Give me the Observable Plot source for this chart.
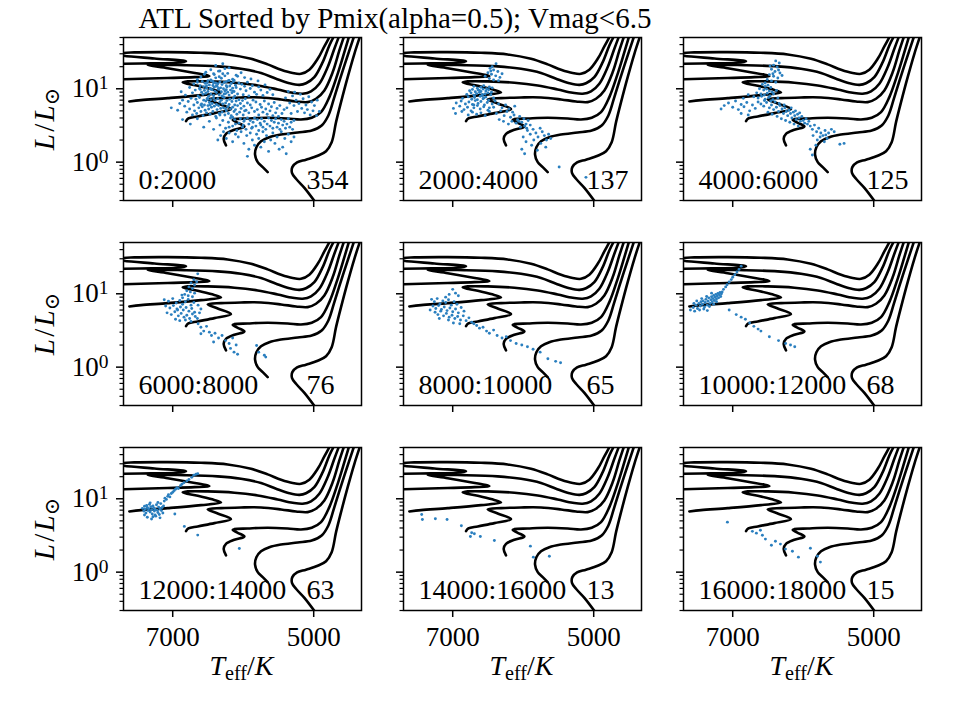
<!DOCTYPE html>
<html>
<head>
<meta charset="utf-8">
<script src="https://cdn.jsdelivr.net/npm/d3@7"></script>
<script src="https://cdn.jsdelivr.net/npm/@observablehq/plot@0.6"></script>
<style>
  html, body { margin: 0; padding: 0; background: #fff; }
  #fig { position: relative; width: 960px; height: 720px; font-family: "Liberation Serif", "DejaVu Serif", serif; color: #000; }
  .title { position: absolute; left: 0; width: 790px; top: 4px; text-align: center; font-size: 29px; line-height: 1; white-space: nowrap; }
  .xlab { position: absolute; font-size: 28px; line-height: 1; white-space: nowrap; transform: translateX(-50%); }
  .ylab { position: absolute; font-size: 29px; line-height: 1; white-space: nowrap; transform: translate(-50%, -50%) rotate(-90deg); }
  .xlab sub, .ylab sub { font-size: 0.72em; vertical-align: -0.25em; line-height: 0; }
  .ylab .sl { margin: 0 0.08em; }
</style>
</head>
<body>
<div id="fig"></div>
<script>
// ---- Evolutionary tracks, [Teff (K), L/Lsun], drawn in every panel ----
const track1 = [[4764,53.4],[4849,37.8],[4943,25.6],[5062,18.2],[5180,16.0],[5298,16.4],[5463,18.2],[5653,21.5],[5889,25.6],[6220,29.4],[6598,31.0],[7071,31.6],[7544,31.3],[7827,30.0],[7695,28.2],[7260,25.9],[6811,23.8],[6953,22.6],[7307,22.2],[7695,21.9],[7875,21.7]];
const track2 = [[4707,53.4],[4778,39.0],[4872,23.1],[4991,14.4],[5109,11.9],[5203,11.3],[5345,11.9],[5534,13.7],[5747,16.4],[6031,18.7],[6362,20.2],[6835,21.0],[7260,21.2],[7355,21.0],[7071,19.1],[6787,17.1],[6480,14.9],[6693,14.4],[7071,14.0],[7449,13.7],[7695,13.5],[7875,13.4]];
const track3 = [[4636,53.4],[4707,35.1],[4801,19.8],[4920,11.7],[5038,9.2],[5156,8.55],[5298,8.82],[5511,9.8],[5794,11.1],[6125,12.1],[6504,12.6],[6787,12.6],[6858,12.2],[6645,11.0],[6456,9.9],[6314,8.91],[6598,8.2],[7071,7.46],[7449,7.0],[7615,6.72]];
const track4 = [[4565,53.4],[4636,33.3],[4730,16.9],[4849,9.49],[4967,7.31],[5085,6.58],[5251,6.72],[5463,7.16],[5747,7.62],[6031,7.62],[6314,7.46],[6504,7.16],[6362,6.31],[6173,5.28],[6409,4.66],[6645,4.20],[6778,3.94],[6811,3.62]];
const track5 = [[4494,53.4],[4565,31.6],[4660,16.0],[4778,7.70],[4896,4.81],[5028,4.03],[5180,3.82],[5369,3.94],[5653,4.03],[5936,3.94],[6125,3.86],[6149,3.78],[6078,3.44],[5983,3.06],[6125,2.76],[6244,2.43],[6277,2.08],[6244,1.69]];
const track6 = [[4423,53.4],[4494,33.3],[4603,16.0],[4707,7.70],[4792,4.33],[4887,3.16],[5028,2.70],[5227,2.54],[5463,2.38],[5629,2.19],[5747,1.93],[5813,1.60],[5832,1.27],[5794,1.0],[5723,0.855],[5653,0.731]];
const track7 = [[4338,53.4],[4423,30.0],[4518,14.4],[4612,6.58],[4683,3.51],[4745,1.87],[4825,1.41],[4943,1.22],[5109,1.08],[5236,0.99],[5303,0.855],[5307,0.707],[5251,0.593],[5132,0.447],[4991,0.297],[4896,0.219]];
const tracks = [track1, track2, track3, track4, track5, track6, track7];

// ---- Stars in each rank bin, [Teff (K), L/Lsun] ----
const bin0 = [
[6390,20.8],[6290,21.9],[6200,19.3],[6460,18.2],[6330,17.5],
[6600,14.5],[6530,16.8],[6460,13.2],[6410,15.6],[6350,17.4],[6310,13.9],[6260,15.0],[6220,16.2],[6150,13.5],[6080,14.8],[6500,12.9],[6390,14.1],[6290,16.0],[6200,13.0],[6100,15.3],[5980,14.2],[5890,13.6],[5790,12.8],[6650,13.4],[6550,15.8],[6430,12.7],[6340,14.6],[6240,12.5],[6130,13.1],[6030,16.5],
[6880,9.1],[6820,8.2],[6760,10.4],[6720,8.8],[6700,11.6],[6680,9.6],[6650,12.3],[6640,8.0],[6620,10.1],[6610,11.0],
[6590,9.0],[6580,12.6],[6570,8.4],[6560,10.7],[6550,9.5],[6540,11.9],[6530,8.7],[6520,10.2],[6510,12.1],[6500,9.2],
[6490,7.9],[6480,11.3],[6470,10.0],[6460,8.5],[6450,12.8],[6440,9.7],[6430,11.1],[6420,8.1],[6410,10.5],[6400,9.3],
[6390,12.0],[6380,8.9],[6370,10.8],[6360,11.7],[6350,9.8],[6340,8.3],[6330,12.4],[6320,10.3],[6310,9.1],[6300,11.4],
[6290,7.8],[6280,10.0],[6270,12.2],[6260,9.4],[6250,8.6],[6240,11.0],[6230,10.6],[6220,9.0],[6210,12.9],[6200,8.2],
[6190,10.9],[6180,9.6],[6170,11.8],[6160,8.8],[6150,10.2],[6140,12.5],[6130,9.2],[6120,7.9],[6110,11.2],[6100,10.4],
[6080,8.5],[6060,12.0],[6040,9.9],[6020,11.5],[6000,8.3],[5980,10.8],[5960,9.4],[5940,12.3],[5920,8.0],[5900,10.1],
[5870,11.0],[5840,9.0],[5810,8.4],[5780,10.6],[5750,9.6],[5720,8.1],[5690,11.3],[5660,8.9],[5620,9.8],[5580,8.3],
[6610,9.8],[6460,9.9],[6350,10.1],[6240,9.7],[6380,11.0],[6300,8.0],[6150,9.3],[6520,11.0],[6420,12.0],[6270,8.5],
[7020,5.5],[6930,5.1],[6900,6.3],[6860,7.0],[6830,5.8],[6800,4.8],[6780,6.7],[6760,5.3],[6740,7.4],[6720,4.4],
[6700,6.0],[6690,5.0],[6670,7.2],[6660,4.6],[6650,6.5],[6630,5.5],[6620,7.6],[6600,4.9],[6590,6.2],[6580,5.7],
[6570,4.3],[6560,7.0],[6550,6.0],[6540,5.1],[6530,6.8],[6520,4.7],[6510,7.4],[6500,5.9],[6490,5.3],[6480,6.5],
[6470,4.5],[6460,7.1],[6450,5.6],[6440,6.3],[6430,4.9],[6420,7.5],[6410,5.8],[6400,6.9],[6390,4.2],[6380,6.1],
[6370,5.2],[6360,7.3],[6350,5.9],[6340,4.6],[6330,6.6],[6320,5.4],[6310,7.0],[6300,4.8],[6290,6.2],[6280,5.5],
[6270,7.6],[6260,4.4],[6250,6.4],[6240,5.0],[6230,6.9],[6220,5.7],[6210,4.6],[6200,6.1],[6190,7.2],[6180,5.3],
[6170,4.3],[6160,6.7],[6150,5.6],[6140,7.4],[6130,4.9],[6120,6.0],[6110,5.2],[6100,6.8],[6090,4.5],[6080,5.9],
[6060,7.1],[6050,4.8],[6040,6.3],[6030,5.4],[6010,6.9],[6000,4.4],[5990,5.8],[5970,7.3],[5960,5.1],[5940,6.4],
[5920,4.7],[5900,6.0],[5880,5.5],[5860,7.0],[5840,4.9],[5820,6.6],[5800,5.2],[5780,4.4],[5760,6.1],[5740,5.6],
[5720,4.8],[5700,6.8],[5680,5.3],[5660,4.5],[5640,6.2],[5620,5.0],[5600,5.7],[5580,4.3],[5560,6.5],[5540,4.7],
[5520,5.4],[5500,4.2],[5480,5.9],[5450,4.6],[5420,5.2],[6470,6.0],[6330,4.4],[6600,6.0],[6250,5.3],[6150,4.1],
[6860,3.8],[6750,3.3],[6650,3.9],[6560,3.0],[6480,3.6],[6420,2.8],[6380,4.0],[6330,3.2],[6290,3.7],[6250,2.9],
[6210,3.5],[6180,4.0],[6150,3.1],[6120,3.8],[6090,2.7],[6060,3.4],[6040,3.9],[6010,3.0],[5990,3.6],[5960,2.8],
[5940,4.0],[5920,3.3],[5900,3.7],[5880,2.9],[5860,3.5],[5840,4.0],[5820,3.1],[5800,3.8],[5780,2.7],[5760,3.4],
[5740,3.9],[5720,3.0],[5700,3.6],[5680,2.8],[5660,3.3],[5640,4.0],[5620,3.1],[5600,3.7],[5580,2.9],[5560,3.5],
[5540,3.9],[5520,3.0],[5500,3.4],[5480,2.8],[5460,3.8],[5440,3.2],[5420,3.6],[5400,2.9],[5380,3.3],[5360,3.9],
[5340,3.0],[5320,3.5],[5300,2.8],[5280,3.7],[6000,3.2],[5870,3.0],[6110,3.3],[5750,3.2],[6200,3.0],[5980,3.8],
[6360,2.0],[6320,2.3],[6280,2.6],[6240,2.1],[6200,2.5],[6150,1.9],[6110,2.4],[6070,2.2],[6030,2.6],[5990,1.8],
[5950,2.3],[5940,1.2],[5920,1.5],[5900,2.5],[5870,2.0],[5840,1.7],[5810,2.4],[5780,2.1],[5750,1.6],[5720,2.6],
[5700,1.9],[5670,2.3],[5640,1.4],[5610,2.0],[5580,2.5],[5550,1.8],[5520,2.2],[5490,1.5],[5460,2.6],[5440,1.6],
[5410,2.1],[5390,1.3],[5360,2.4],[5320,1.9],[5280,2.2],
[5400,7.5],[5380,5.5],[5360,9.2],[5340,6.4],[5320,4.6],[5300,8.0],[5280,5.9],[5270,9.0],[5250,7.0],[5230,4.9],
[5210,6.3],[5190,8.4],[5170,5.4],[5150,7.3],[5130,4.7],[5110,6.0],[5090,5.2],[5070,7.8],[5050,4.4],[5030,6.6],
[5010,5.0],[4990,5.9],[4960,4.3],[4920,4.9],[4950,7.0],
[6420,16.0],[6260,18.8],[6500,7.2],[5980,5.0]
];
const bin1 = [
[6385,21.9],[6440,20.0],[6470,19.0],[6420,18.0],[6360,17.2],[6500,16.5],[6450,15.8],[6390,15.0],[6330,14.3],[6480,13.8],[6420,13.2],[6350,12.9],[6540,14.8],[6300,16.0],[6460,17.5],
[6700,10.8],[6650,10.2],[6600,10.5],[6560,11.0],[6520,10.0],[6480,10.6],[6440,10.3],
[6760,9.4],[6720,9.8],[6680,9.1],[6640,9.6],[6600,9.2],[6570,9.9],[6530,9.3],[6490,9.7],[6450,9.0],
[6800,8.4],[6740,8.8],[6700,8.2],[6660,8.6],[6620,8.9],[6580,8.1],[6540,8.5],[6500,8.8],[6460,8.3],
[6860,7.4],[6780,7.8],[6730,7.2],[6690,7.6],[6650,7.1],[6610,7.9],[6570,7.3],[6530,7.7],[6490,7.0],[6420,7.5],
[6950,6.4],[6880,6.8],[6820,6.2],[6770,6.6],[6720,6.1],[6680,6.9],[6640,6.3],[6600,6.7],[6550,6.0],[6510,6.5],[6440,6.2],
[6990,5.4],[6900,5.8],[6840,5.2],[6790,5.6],[6740,5.0],[6700,5.5],[6650,5.9],[6610,5.3],[6560,5.7],[6500,5.1],
[6960,4.6],[6870,4.9],[6780,4.4],[6720,4.8],[6660,4.5],[6600,4.7],[6540,4.3],[6480,4.9],
[6620,9.5],[6560,7.5],[6700,6.0],[6480,5.5],[6580,8.4],[6690,8.0],
[6400,6.8],[6350,6.2],[6300,5.5],[6250,6.0],[6200,5.3],[6150,4.8],[6120,5.8],[6380,4.6],[6320,5.0],[6270,4.3],
[6230,4.9],[6180,4.1],[6130,4.4],[6080,3.8],[6050,4.2],[6020,3.5],[5990,3.9],[5960,3.3],[5930,3.7],[5900,3.2],
[6100,3.4],[6040,3.0],[6160,3.6],[5980,3.1],[6420,5.6],[6340,3.8],[6210,3.3],[6280,3.6],[6060,3.6],[5950,2.9],
[5940,2.7],[5900,2.4],[5860,2.8],[5820,2.5],[5790,2.2],[5760,2.9],[5730,2.6],[5700,2.3],[5670,2.0],[5640,2.4],
[5610,2.1],[6000,2.2],[5960,1.9],[6020,1.5],[5980,1.3],[5880,1.7],[5750,1.8],[5850,2.0],
[5490,0.86],[5110,0.62],[5680,1.6],[5800,1.45]
];
const bin2 = [
[6390,24.0],[6340,22.5],[6420,21.0],[6370,19.8],[6450,18.5],[6400,17.2],[6330,16.4],[6480,15.6],[6420,14.8],[6360,14.0],[6510,13.4],[6450,12.8],[6390,12.3],[6540,12.0],[6300,15.2],[6470,20.5],[6350,18.0],[6430,16.0],
[6580,11.5],[6540,10.8],[6500,11.2],[6460,10.4],[6620,10.0],[6560,9.6],[6520,9.9],[6480,9.3],[6440,9.0],[6660,8.8],
[6600,8.5],[6550,8.2],[6510,8.7],[6470,8.0],[6700,7.8],[6640,7.5],[6590,7.9],[6540,7.2],[6490,7.6],[6430,7.1],
[6780,8.3],[6850,7.4],[6420,8.5],[6380,9.5],[6360,7.5],
[7165,5.3],[7120,5.9],[7060,6.4],[7000,5.6],[6960,6.8],[6920,5.2],[6880,6.1],[6840,5.7],[6800,6.5],[6760,5.0],
[6720,6.0],[6680,5.4],[6640,6.6],[6880,4.6],[6780,4.4],
[6600,6.2],[6560,5.8],[6520,6.5],[6480,5.5],[6450,6.0],[6420,5.2],[6400,6.6],[6380,5.6],[6350,4.9],[6330,5.9],
[6300,5.3],[6280,4.6],[6260,5.5],[6240,4.9],[6220,4.3],[6200,5.1],[6180,4.6],[6160,4.0],[6140,4.8],[6120,4.3],
[6100,3.8],[6080,4.5],[6060,4.0],[6040,3.6],[6020,4.2],[6000,3.7],[5980,3.4],[5960,3.9],[5940,3.3],[5920,3.6],
[6500,4.8],[6440,4.5],[6370,4.2],[6310,3.9],[6250,3.7],[6190,3.5],[6130,3.3],[6070,3.1],[6550,6.9],[6460,6.8],
[6340,6.3],[6270,6.0],[6170,5.5],[6110,5.0],[6050,4.7],
[5900,3.1],[5870,2.8],[5840,3.2],[5810,2.6],[5780,2.9],[5750,2.5],[5720,2.3],[5690,2.7],[5660,2.1],[5640,2.5],
[5860,2.3],[5800,2.0],[5760,2.2],[5700,1.9],[5900,1.5],[5870,1.25],[5820,1.7],[5680,2.35],[5600,2.8],[5560,2.6],
[5480,1.75],[5420,1.8]
];
const bin3 = [
[6645,18.7],[6700,15.5],[6660,14.6],[6740,14.0],[6690,13.2],[6770,12.4],[6720,11.8],[6800,11.0],[6750,10.6],[6690,10.2],[6830,9.8],[6780,9.4],[6720,9.1],[6870,9.6],
[7120,8.3],[7060,7.9],[7000,8.6],[6950,7.5],[6900,8.1],[6860,7.2],[6820,7.8],[6780,8.4],[6740,7.0],[6700,7.6],
[7100,6.8],[7040,6.4],[6990,6.9],[6940,6.2],[6890,6.6],[6850,6.0],[6810,6.5],[6770,5.8],[6730,6.3],[6690,5.6],
[7080,5.5],[7020,5.2],[6970,5.7],[6920,5.0],[6880,5.4],[6840,4.8],[6800,5.1],[6760,4.6],[6720,5.3],[6680,4.9],
[6960,4.5],[6900,4.3],[6820,4.4],[6740,4.2],[6650,4.6],[6620,5.5],[6600,6.2],[6640,7.0],[6860,8.8],[6930,6.0],
[6640,3.9],[6600,3.5],[6560,3.1],[6520,3.6],[6480,3.0],[6600,2.85],[6450,2.7],[6400,2.9],[6350,2.5],[6300,2.7],
[6250,2.3],[6200,2.1],[6180,1.8],[6150,2.5],[6130,1.6],[6100,2.0],[6080,1.5],[5810,1.97],[5780,1.6],[5700,1.45],
[5680,1.37],[6420,2.2]
];
const bin4 = [
[7000,11.5],[6960,10.2],[7050,9.8],[6920,9.4],[7100,9.0],
[7300,8.4],[7260,7.8],[7220,8.6],[7180,7.3],[7140,8.0],[7100,7.6],[7060,8.3],[7020,7.0],[6980,7.8],[6940,7.2],
[7280,6.8],[7240,6.3],[7200,6.9],[7160,6.1],[7120,6.6],[7080,5.9],[7040,6.4],[7000,5.7],[6960,6.2],[6920,5.5],
[7250,5.6],[7210,5.2],[7170,5.8],[7130,5.0],[7090,5.4],[7050,4.8],[7010,5.1],[6970,4.6],[6930,4.9],[6890,4.4],
[6850,5.0],[6810,4.3],[6770,4.7],[6730,4.1],[6700,3.9],[6880,6.5],[6840,5.8],[7190,4.6],[7060,4.4],[6990,4.0],[6900,3.9],[7320,6.0],
[6660,3.7],[6620,3.4],[6570,3.5],[6520,3.1],[6480,2.9],[6420,3.2],[6370,2.7],[6300,2.5],[6240,2.6],[6180,2.3],
[6100,2.1],[6020,2.0],[5940,1.9],[5860,1.75],[5760,1.6],[5650,1.3],[5540,1.2],[5470,1.15]
];
const bin5 = [
[7600,6.0],[7560,6.5],[7540,5.8],[7520,7.0],[7500,6.3],[7480,7.4],[7460,6.8],[7450,7.8],[7430,7.2],[7420,8.0],
[7400,6.6],[7390,7.6],[7380,8.4],[7360,7.0],[7350,7.9],[7340,8.8],[7320,7.4],[7310,8.3],[7300,9.1],[7290,7.8],
[7280,8.6],[7270,9.5],[7260,8.1],[7250,9.0],[7240,9.8],[7230,8.5],[7220,9.3],[7210,10.1],[7200,8.8],[7190,9.7],
[7180,10.4],[7170,9.2],[7160,10.0],[7150,10.6],[7470,6.0],[7410,6.2],[7330,6.7],[7440,8.6],[7370,9.2],[7300,10.2],
[7550,7.4],[7510,8.0],[7270,7.2],[7230,7.8],[7360,5.9],
[7130,11.5],[7100,12.4],[7080,13.3],[7050,14.5],[7020,15.6],[7000,16.8],[6970,18.2],[6940,19.8],[6910,21.5],[6880,23.8],
[7050,6.0],[6950,5.2],[6880,4.8],[6820,4.5],[6760,4.0],[6700,3.6],[6640,3.3],[6600,3.1],[6480,2.6],[6350,2.3],[6250,2.1],[6180,2.0],[6120,1.9]
];
const bin6 = [
[7430,7.4],[7410,6.8],[7400,7.9],[7390,7.2],[7380,6.4],[7370,8.1],[7360,7.6],[7350,6.9],[7340,7.3],[7330,8.4],
[7320,6.6],[7310,7.8],[7300,7.1],[7290,6.2],[7280,8.0],[7270,7.5],[7260,6.8],[7250,7.2],[7240,5.8],[7230,8.3],
[7220,7.0],[7210,6.5],[7200,7.7],[7190,6.1],[7180,7.3],[7170,8.6],[7160,6.9],[7150,7.6],[7140,6.4],[7130,8.0],
[7360,5.6],[7300,5.3],[7250,6.0],[7320,8.8],[7210,8.9],[7400,6.0],[7280,5.7],[7180,5.5],
[7120,9.3],[7110,10.2],[7090,9.8],[7070,10.8],[7060,11.4],[7040,10.6],[7020,11.8],[7000,12.3],[6980,12.9],[6960,13.5],
[6940,14.2],[6920,13.8],[6890,15.1],[6870,15.8],[6840,16.6],[6800,17.5],[6770,18.3],[6730,19.6],[6700,21.0],[6670,21.6],[6645,21.9],
[6970,6.2],[6835,4.2],[6645,3.2],[6055,2.1]
];
const bin7 = [
[7440,6.11],[7430,5.23],[7246,5.34],[7080,5.23],[6877,4.28],[6731,3.44],[6693,3.33],[6749,3.06],[6608,3.06],[6409,2.70],[5898,2.26],[5856,1.60],[5629,1.65]
];
const bin8 = [
[7075,4.8],[6721,3.6],[6664,3.4],[6579,3.19],[6536,2.82],[6451,2.33],[6394,2.64],[6323,2.41],[6252,2.06],[6153,1.93],[6068,1.60],[5898,2.12],[5798,1.65],[5756,1.37],[6607,3.73]
];
const bins = [bin0, bin1, bin2, bin3, bin4, bin5, bin6, bin7, bin8];
const binLabels = ["0:2000", "2000:4000", "4000:6000", "6000:8000", "8000:10000", "10000:12000", "12000:14000", "14000:16000", "16000:18000"];

// ---- Axis ticks ----
const xTicks = [7000, 5000];
const yMajor = [1, 10];
const yExponents = ["0", "1"];
const yMinor = [0.3, 0.4, 0.5, 0.6, 0.7, 0.8, 0.9, 2, 3, 4, 5, 6, 7, 8, 9, 20, 30, 40, 50];

// ---- Figure layout (pixels) ----
const COL_X = [122.5, 402.5, 682.5];
const ROW_Y = [37, 242, 447];
const PW = 238, PH = 163;
const ML = 100, MR = 12, MT = 12, MB = 52;
const FONT = '"Liberation Serif", "DejaVu Serif", serif';
const SVG_NS = "http://www.w3.org/2000/svg";

const trackRows = tracks.flatMap((t, k) => t.map(([teff, lum]) => ({track: k, teff, lum})));
// y tick labels are written as "10^k"; the exponent is raised below
const majorLabel = d => "10^" + (yExponents[yMajor.indexOf(d)] ?? "");

const fig = document.getElementById("fig");

bins.forEach((stars, i) => {
  const col = i % 3, row = Math.floor(i / 3);
  const showX = row === 2, showY = col === 0;
  const svg = Plot.plot({
    width: ML + PW + MR,
    height: MT + PH + MB,
    marginLeft: ML, marginRight: MR, marginTop: MT, marginBottom: MB,
    style: {background: "transparent", overflow: "visible", fontFamily: FONT, fontSize: "27px", color: "black"},
    x: {domain: [7698, 4322]},
    y: {type: "log", domain: [0.3, 50]},
    marks: [
      Plot.line(trackRows, {x: "teff", y: "lum", z: "track", stroke: "black", strokeWidth: 2.6, curve: "catmull-rom", clip: true}),
      Plot.dot(stars, {x: d => d[0], y: d => d[1], r: 1.45, fill: "#2a7fbf", stroke: "none", clip: true}),
      Plot.axisX({ticks: xTicks, tickSize: 7, tickPadding: 9, strokeWidth: 1.5, label: null, tickFormat: d => String(d), fill: showX ? "black" : "none"}),
      Plot.axisY({ticks: yMajor, tickSize: 7, tickPadding: 8, strokeWidth: 1.5, label: null, tickFormat: majorLabel, fill: showY ? "black" : "none"}),
      Plot.axisY({ticks: yMinor, tickSize: 3.5, strokeWidth: 1.2, label: null, fill: "none"}),
      Plot.frame({stroke: "black", strokeWidth: 1.5}),
      Plot.text([binLabels[i]], {frameAnchor: "bottom-left", dx: 15, dy: -12, textAnchor: "start", lineAnchor: "bottom", fontSize: 28, fill: "black"}),
      Plot.text([String(stars.length)], {frameAnchor: "bottom-left", dx: 183, dy: -12, textAnchor: "start", lineAnchor: "bottom", fontSize: 28, fill: "black"})
    ]
  });
  // raise the exponent of the "10^k" tick labels as a superscript
  svg.querySelectorAll("text").forEach(t => {
    const m = /^10\^(\d)$/.exec(t.textContent);
    if (!m) return;
    t.textContent = "10";
    const sup = document.createElementNS(SVG_NS, "tspan");
    sup.setAttribute("dy", "-0.42em");
    sup.setAttribute("font-size", "0.72em");
    sup.textContent = m[1];
    t.appendChild(sup);
  });
  svg.style.position = "absolute";
  svg.style.left = (COL_X[col] - ML) + "px";
  svg.style.top = (ROW_Y[row] - MT) + "px";
  fig.appendChild(svg);
});

// ---- Title and axis labels ----
const title = document.createElement("div");
title.className = "title";
title.textContent = "ATL Sorted by Pmix(alpha=0.5); Vmag<6.5";
fig.appendChild(title);

COL_X.forEach(x0 => {
  const lab = document.createElement("div");
  lab.className = "xlab";
  lab.style.left = (x0 + PW / 2) + "px";
  lab.style.top = "652px";
  lab.innerHTML = "<i>T</i><sub>eff</sub>/<i>K</i>";
  fig.appendChild(lab);
});
ROW_Y.forEach(y0 => {
  const lab = document.createElement("div");
  lab.className = "ylab";
  lab.style.left = "44px";
  lab.style.top = (y0 + 82) + "px";
  lab.innerHTML = "<i>L</i><span class=\"sl\">/</span><i>L</i><sub>\u2299</sub>";
  fig.appendChild(lab);
});
</script>
</body>
</html>
